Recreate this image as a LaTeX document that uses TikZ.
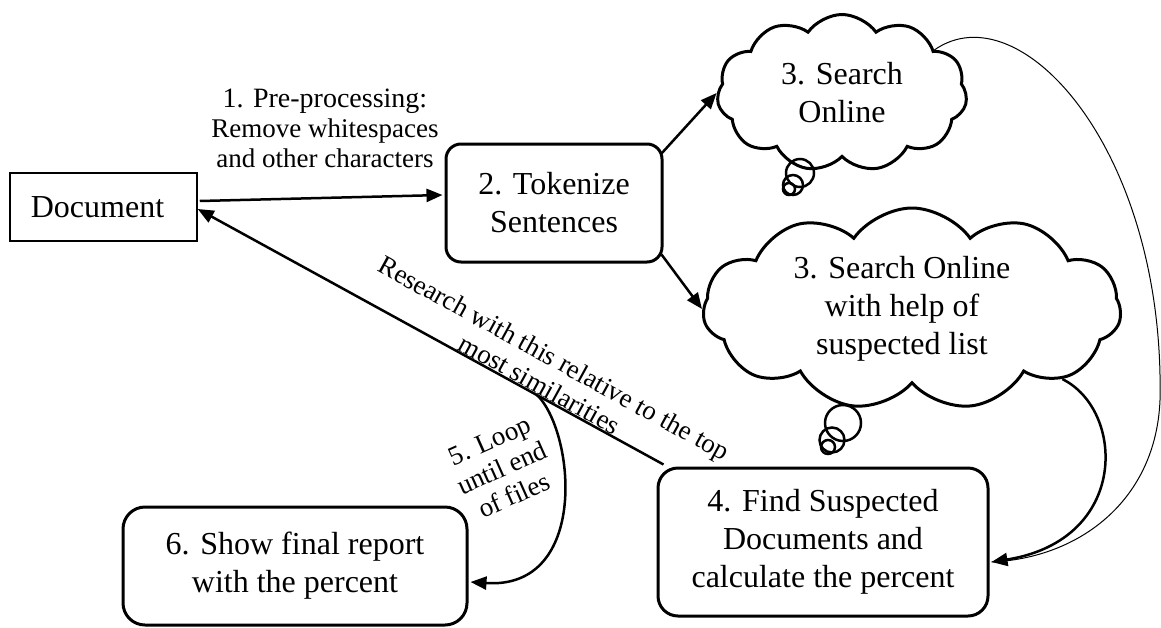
\documentclass[tikz,border=0pt]{standalone}
\usepackage{fontspec}
\setmainfont{Liberation Serif}
\usetikzlibrary{arrows.meta,shapes.symbols,calc}
\begin{document}
\begin{tikzpicture}[x=1pt,y=-1pt,
  every node/.style={font=\fontsize{32}{38}\selectfont, align=center, inner sep=0pt},
  docbox/.style={draw, line width=1.5pt, minimum width=187pt, minimum height=68pt},
  rbox/.style={draw, line width=3pt},
  cloudbox/.style={cloud, draw, line width=3pt, cloud puffs=11, cloud puff arc=110},
  lbl/.style={font=\fontsize{27}{30}\selectfont},
  conn/.style={line width=2.5pt, -{Triangle[length=16pt,width=13pt]}},
  thinconn/.style={line width=1pt},
  bubble/.style={line width=2.5pt}
]
\useasboundingbox (0,0) rectangle (1161,627);

% nodes
\node[docbox] (doc) at (103.5,207) {\hspace*{-12pt}Document};
\node[rbox, rounded corners=15pt, minimum width=216pt, minimum height=118pt] (tok) at (554,203) {2. Tokenize\\Sentences};
\node[cloudbox, aspect=1.6, minimum width=250pt, minimum height=157pt] (c1) at (842,93) {3. Search\\Online};
\node[cloudbox, aspect=2.07, minimum width=418pt, minimum height=202pt] (c2) at (912,309) {\hspace*{-20pt}3. Search Online\\\hspace*{-20pt}with help of\\\hspace*{-20pt}suspected list};
\node[rbox, rounded corners=20pt, minimum width=330pt, minimum height=148pt] (box4) at (823,542) {4. Find Suspected\\Documents and\\calculate the percent};
\node[rbox, rounded corners=22pt, minimum width=344pt, minimum height=118pt] (box6) at (295,566) {6. Show final report\\with the percent};

% thought bubbles
\draw[bubble] (800,173) circle[radius=14];
\draw[bubble] (793,185) circle[radius=10];
\draw[bubble] (789,189) circle[radius=6];
\draw[bubble] (843,423) circle[radius=18];
\draw[bubble] (832,440) circle[radius=12.5];
\draw[bubble] (828,447) circle[radius=7];

% labels
\node[lbl] (pre) at (325,128) {{\fontsize{28}{30}\selectfont 1. Pre-processing:}\\Remove whitespaces\\and other characters};
\node[lbl, rotate=-28.8] (rlab) at (547,371) {Research with this relative to the top\\most similarities};
\node[lbl, rotate=24] (llab) at (502,468) {5. Loop\\until end\\of files};

% coordinates
\coordinate (c4) at ($(box4.north west)+(7,-2)$);
\coordinate (lp) at ($(c4)!0.2735!(doc.east)$);
\coordinate (e4) at ($(box4.east)+(2,20)$);

% connectors
\draw[conn] ($(doc.east)+(2,-6)$) -- ($(tok.west)+(-2,-8)$);
\draw[conn] (c4) -- ($(doc.east)+(0,2)$);
\draw[conn] ($(tok.north east)+(-2,11)$) -- (c1.west);
\draw[conn] ($(tok.south east)+(-2,-9)$) -- (c2.west);
\draw[thinconn] (c1.25) .. controls (1020,-10) and (1165,150) .. (1160,400) .. controls (1156,500) and (1080,558) .. (e4);
\draw[conn] (c2.-25) .. controls (1125,410) and (1130,540) .. (e4);
\draw[conn] (lp) .. controls (575,430) and (590,590) .. ($(box6.east)+(2,16)$);
\end{tikzpicture}
\end{document}
